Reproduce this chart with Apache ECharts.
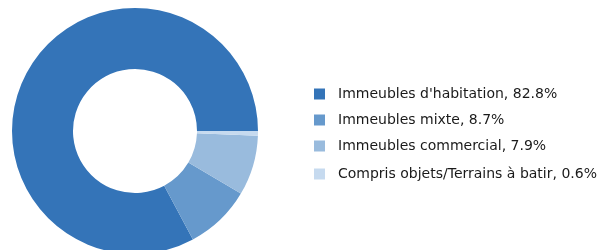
<!DOCTYPE html>
<html>
<head>
<meta charset="utf-8">
<script src="https://cdn.jsdelivr.net/npm/echarts@6/dist/echarts.min.js"></script>
<style>
  html, body { margin: 0; padding: 0; background: #fff; }
  #chart { width: 609px; height: 250px; }
</style>
</head>
<body>
<div id="chart"></div>
<script>
var categories = [
  "Immeubles d'habitation",
  "Immeubles mixte",
  "Immeubles commercial",
  "Compris objets/Terrains à batir"
];
var shares = [82.8, 8.7, 7.9, 0.6];
var colors = ["#3474b8", "#6699cc", "#99bbdd", "#c6daef"];

var chart = echarts.init(document.getElementById("chart"));

var pieData = categories.map(function (name, i) {
  return { name: name, value: shares[i], itemStyle: { color: colors[i] } };
});

// last legend row sits a bit lower in the original
var legendData = categories.map(function (name, i) {
  if (i === categories.length - 1) {
    return { name: name, textStyle: { lineHeight: 18 } };
  }
  return { name: name };
});

chart.setOption({
  animation: false,
  legend: {
    orient: "vertical",
    left: 314,
    top: 87,
    padding: 0,
    itemWidth: 11,
    itemHeight: 11,
    itemGap: 12,
    icon: "rect",
    textStyle: {
      fontFamily: "DejaVu Sans",
      fontSize: 14,
      color: "#1a1a1a",
      padding: [0, 0, 0, 8]
    },
    formatter: function (name) {
      var i = categories.indexOf(name);
      return name + ", " + shares[i] + "%";
    },
    data: legendData
  },
  series: [
    {
      type: "pie",
      center: [135, 131],
      radius: [62, 123],
      startAngle: 0,
      clockwise: false,
      label: { show: false },
      labelLine: { show: false },
      itemStyle: { borderColor: "#fff", borderWidth: 0 },
      emphasis: { disabled: true },
      data: pieData
    }
  ]
});
</script>
</body>
</html>
